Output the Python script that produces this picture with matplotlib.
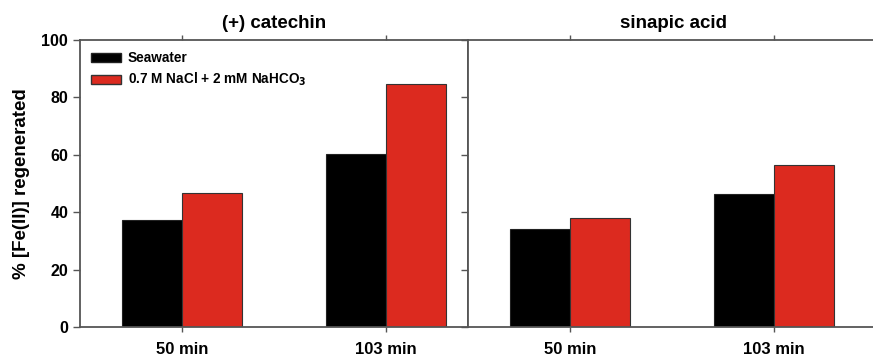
import matplotlib
matplotlib.use("Agg")
import matplotlib.pyplot as plt
import numpy as np
from matplotlib.patches import Patch

plt.rcParams['font.family'] = ['Liberation Sans', 'DejaVu Sans']
plt.rcParams['font.weight'] = 'bold'
plt.rcParams['mathtext.default'] = 'bf'

times = ["50 min", "103 min"]
panels = ["(+) catechin", "sinapic acid"]
series = ["Seawater", "0.7 M NaCl + 2 mM NaHCO$_3$"]
catechin_seawater = [37.3, 60.3]
catechin_nacl = [46.7, 84.7]
sinapic_seawater = [34.0, 46.3]
sinapic_nacl = [37.9, 56.3]
y_ticks = [0, 20, 40, 60, 80, 100]

colors = ["#000000", "#dc2a1f"]
spine_color = "#555555"

fig = plt.figure(figsize=(8.73, 3.57), dpi=100)
bottom, height = 30 / 357, 287 / 357
ax1 = fig.add_axes([80 / 873, bottom, 388 / 873, height])
ax2 = fig.add_axes([468 / 873, bottom, 410 / 873, height])

x = np.arange(len(times))
w = 0.294
data = [(ax1, catechin_seawater, catechin_nacl, 1.402),
        (ax2, sinapic_seawater, sinapic_nacl, 1.51)]

for (ax, sw, nacl, xmax), title in zip(data, panels):
    ax.bar(x - w / 2, sw, w, color=colors[0], edgecolor="#222222", linewidth=0.8)
    ax.bar(x + w / 2, nacl, w, color=colors[1], edgecolor="#333333", linewidth=0.8)
    ax.set_xlim(-0.5, xmax)
    ax.set_ylim(0, 100)
    ax.set_xticks(x)
    ax.set_xticklabels(times, fontsize=12, fontweight='bold')
    ax.xaxis.set_ticks_position('both')
    ax.tick_params(axis='x', direction='out', length=3.5, width=1,
                   color=spine_color, pad=7)
    ax.set_yticks(y_ticks)
    ax.tick_params(axis='y', direction='out', length=5, width=1, color=spine_color)
    for s in ax.spines.values():
        s.set_color(spine_color)
        s.set_linewidth(1.3)
    ax.set_title(title, fontsize=13.5, fontweight='bold', pad=9)

ax2.spines['right'].set_visible(False)

ax1.set_yticklabels([str(v) for v in y_ticks], fontsize=11.5, fontweight='bold')
ax1.set_ylabel("% [Fe(II)] regenerated", fontsize=13.5, fontweight='bold', labelpad=8)
ax2.set_yticklabels([])

handles = [Patch(facecolor=colors[0], edgecolor="#222222"),
           Patch(facecolor=colors[1], edgecolor="#333333")]
ax1.legend(handles, series, loc='upper left', bbox_to_anchor=(0.0, 1.0),
           frameon=False, prop={'weight': 'bold', 'size': 9.8},
           handlelength=2.2, handleheight=0.65, labelspacing=0.45,
           borderaxespad=0.6, borderpad=0.2, handletextpad=0.5)

fig.savefig("out.png", dpi=100)
